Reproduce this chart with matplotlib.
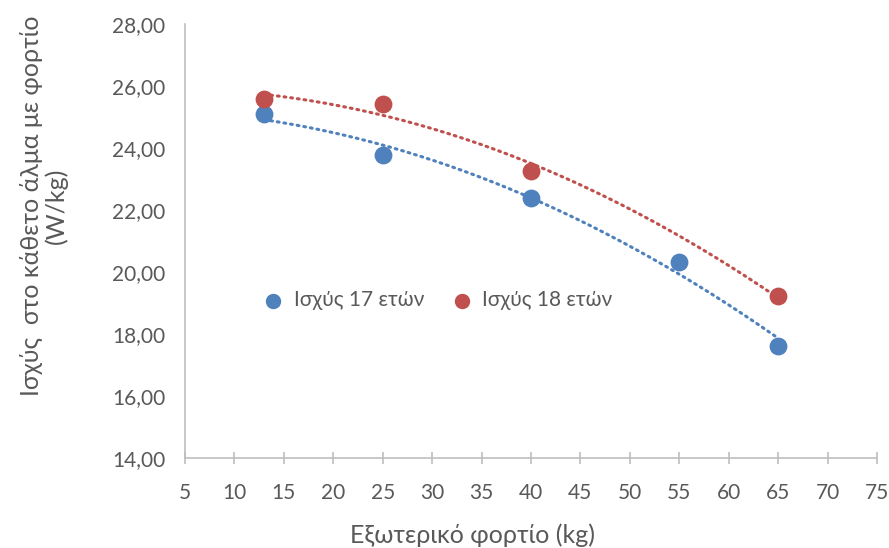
import numpy as np
import matplotlib.pyplot as plt
from matplotlib.ticker import FuncFormatter

plt.rcParams['font.family'] = ['Lato', 'Noto Sans', 'DejaVu Sans']

load_17 = [13, 25, 40, 55, 65]
power_17 = [25.10, 23.77, 22.38, 20.33, 17.63]
load_18 = [13, 25, 40, 65]
power_18 = [25.58, 25.42, 23.25, 19.22]

blue = '#4F81BD'
red = '#C0504D'
gray = '#595959'

fig = plt.figure(figsize=(8.89, 5.48), dpi=100)
ax = fig.add_axes([0.208, 0.164, 0.7785, 0.792])

# polynomial (order 2) trendlines, like excel
for xs, ys, c in [(load_17, power_17, blue), (load_18, power_18, red)]:
    coef = np.polyfit(xs, ys, 2)
    xx = np.linspace(min(xs), max(xs), 200)
    ax.plot(xx, np.polyval(coef, xx), color=c, lw=2.2, linestyle=(0, (0.6, 1.6)),
            dash_capstyle='round', zorder=2)

ax.scatter(load_17, power_17, s=140, color=blue, zorder=3, label='Ισχύς 17 ετών')
ax.scatter(load_18, power_18, s=140, color=red, zorder=3, label='Ισχύς 18 ετών')

ax.set_xlim(5, 75)
ax.set_ylim(14, 28)
ax.set_xticks(range(5, 80, 5))
ax.set_yticks(range(14, 30, 2))
ax.yaxis.set_major_formatter(FuncFormatter(lambda v, p: '{:.2f}'.format(v).replace('.', ',')))

for s in ['top', 'right']:
    ax.spines[s].set_visible(False)
for s in ['left', 'bottom']:
    ax.spines[s].set_color('#BFBFBF')
    ax.spines[s].set_linewidth(1.2)
ax.tick_params(axis='x', direction='inout', length=8, color='#BFBFBF', width=1.2,
               labelsize=15, labelcolor=gray, pad=14)
ax.tick_params(axis='y', length=0, labelsize=15, labelcolor=gray, pad=14)

ax.set_xlabel('Εξωτερικό φορτίο (kg)', fontsize=18, color=gray)
ax.xaxis.set_label_coords(0.415, -0.150)
ax.set_ylabel('Ισχύς  στο κάθετο άλμα με φορτίο\n(W/kg)', fontsize=18, color=gray,
              linespacing=1.05)
ax.yaxis.set_label_coords(-0.169, 0.581)

ax.legend(loc='center left', bbox_to_anchor=(0.07, 0.364), ncol=2, frameon=False,
          fontsize=15, labelcolor=gray, handletextpad=0.0, columnspacing=0.8,
          scatterpoints=1, markerscale=0.85)

fig.savefig('out.png', dpi=100)
